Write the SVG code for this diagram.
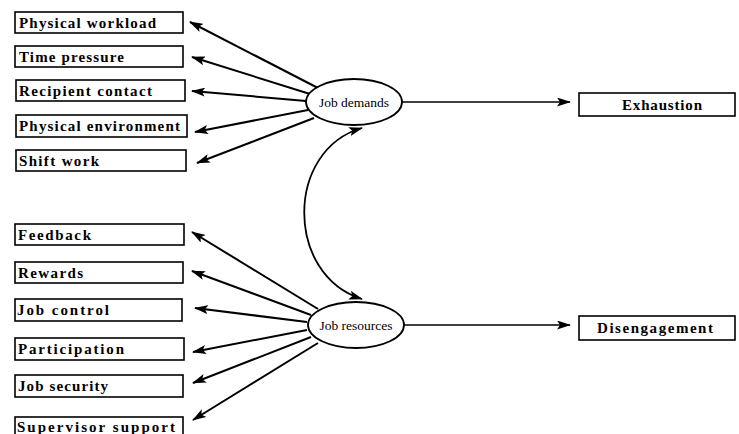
<svg xmlns="http://www.w3.org/2000/svg" width="739" height="434" viewBox="0 0 739 434">
<style>
.box rect{fill:#fff;stroke:#000;stroke-width:1.6}
.box text{font-family:"Liberation Serif","Times New Roman",serif;font-weight:bold;font-size:15px;fill:#000}
.ell ellipse{fill:#fff;stroke:#000;stroke-width:1.8}
.ell text{font-family:"Liberation Serif","Times New Roman",serif;font-size:13.5px;fill:#000;text-anchor:middle}
.c{fill:none;stroke:#000;stroke-width:2;marker-end:url(#ah)}
.t{fill:none;stroke:#000;stroke-width:1.4;marker-end:url(#ah)}
</style>
<defs>
<marker id="ah" viewBox="0 0 14 9" refX="13" refY="4.5" markerWidth="14" markerHeight="9" markerUnits="userSpaceOnUse" orient="auto">
<path d="M0,0 L14,4.5 L0,9 L3,4.5 z" fill="#000"/>
</marker>
<marker id="ahs" viewBox="0 0 14 9" refX="13" refY="4.5" markerWidth="14" markerHeight="9" markerUnits="userSpaceOnUse" orient="auto-start-reverse">
<path d="M0,0 L14,4.5 L0,9 L3,4.5 z" fill="#000"/>
</marker>
</defs>
<g id="connectors">
<line class="c" x1="318" y1="88" x2="190" y2="22"/>
<line class="c" x1="310" y1="94" x2="192" y2="57"/>
<line class="c" x1="306" y1="101" x2="192" y2="91"/>
<line class="c" x1="308" y1="110" x2="195" y2="132"/>
<line class="c" x1="314" y1="118" x2="197" y2="163"/>
<line class="c" x1="318" y1="309" x2="192" y2="232"/>
<line class="c" x1="311" y1="315" x2="192" y2="271"/>
<line class="c" x1="307" y1="322" x2="195" y2="308"/>
<line class="c" x1="307" y1="330" x2="193" y2="352"/>
<line class="c" x1="311" y1="337" x2="193" y2="383"/>
<line class="c" x1="318" y1="343" x2="193" y2="420"/>
<line class="t" x1="401" y1="102" x2="570" y2="102"/>
<line class="t" x1="403" y1="325" x2="570" y2="325"/>
<path d="M362,128 C285,150 285,275 362,299" fill="none" stroke="#000" stroke-width="1.8" marker-start="url(#ahs)" marker-end="url(#ah)"/>
</g>
<g id="physical-workload" class="box"><rect x="15" y="12" width="168" height="21"/><text x="19" y="27.5" textLength="137" lengthAdjust="spacing">Physical workload</text></g>
<g id="time-pressure" class="box"><rect x="15" y="46" width="168" height="21"/><text x="19" y="61.5" textLength="105" lengthAdjust="spacing">Time pressure</text></g>
<g id="recipient-contact" class="box"><rect x="16" y="80" width="169" height="21"/><text x="19" y="95.5" textLength="133" lengthAdjust="spacing">Recipient contact</text></g>
<g id="physical-environment" class="box"><rect x="16" y="115" width="171" height="22"/><text x="19" y="131" textLength="161" lengthAdjust="spacing">Physical environment</text></g>
<g id="shift-work" class="box"><rect x="16" y="150" width="170" height="21"/><text x="19" y="165.5" textLength="80" lengthAdjust="spacing">Shift work</text></g>
<g id="feedback" class="box"><rect x="15" y="224" width="169" height="21"/><text x="18" y="239.5" textLength="73" lengthAdjust="spacing">Feedback</text></g>
<g id="rewards" class="box"><rect x="15" y="262" width="168" height="21"/><text x="18" y="277.5" textLength="65" lengthAdjust="spacing">Rewards</text></g>
<g id="job-control" class="box"><rect x="15" y="299" width="167" height="22"/><text x="17" y="315" textLength="92" lengthAdjust="spacing">Job control</text></g>
<g id="participation" class="box"><rect x="15" y="338" width="169" height="22"/><text x="18" y="354" textLength="106" lengthAdjust="spacing">Participation</text></g>
<g id="job-security" class="box"><rect x="15" y="375" width="168" height="22"/><text x="18" y="391" textLength="90" lengthAdjust="spacing">Job security</text></g>
<g id="supervisor-support" class="box"><rect x="15" y="417" width="168" height="22"/><text x="17" y="432" textLength="158" lengthAdjust="spacing">Supervisor support</text></g>
<g id="job-demands" class="ell"><ellipse cx="354" cy="102" rx="48" ry="23"/><text x="354" y="107">Job demands</text></g>
<g id="job-resources" class="ell"><ellipse cx="356" cy="325" rx="48" ry="23"/><text x="356" y="330">Job resources</text></g>
<g id="exhaustion" class="box"><rect x="579" y="93" width="156" height="23"/><text x="622" y="109.5" textLength="80" lengthAdjust="spacing">Exhaustion</text></g>
<g id="disengagement" class="box"><rect x="579" y="316" width="156" height="24"/><text x="597" y="332.5" textLength="116" lengthAdjust="spacing">Disengagement</text></g>
</svg>
